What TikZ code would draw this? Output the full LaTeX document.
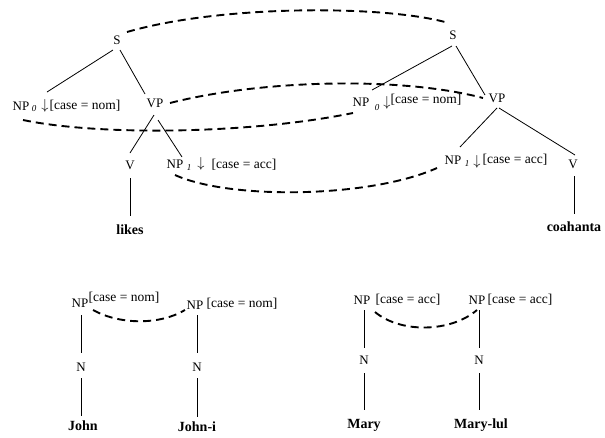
\documentclass[tikz,border=0pt]{standalone}
\usepackage{fontspec}
\setmainfont{Liberation Serif}
\begin{document}
\begin{tikzpicture}[x=1pt,y=-1pt,
  lbl/.style={inner sep=0pt,font=\fontsize{13}{14}\selectfont},
  word/.style={inner sep=0pt,font=\fontsize{14}{16}\selectfont\bfseries},
  sub/.style={inner sep=0pt,font=\fontsize{9}{10}\selectfont\itshape},
  feat/.style={inner sep=0pt,font=\fontsize{13.5}{16}\selectfont},
  arr/.style={inner sep=0pt,font=\fontsize{15}{16}\selectfont},
  edge/.style={line width=0.8pt},
  link/.style={line width=1.9pt,dash pattern=on 8pt off 5pt}]
\useasboundingbox (0,0) rectangle (605,437);
% ---------- left tree ----------
\node[lbl] (S1) at (117,40) {S};
\node[lbl] (NP0L) at (21,106) {NP};
\node[sub] (s0L) at (34,109) {0};
\node[arr] (a0L) at (45,106) {$\downarrow$};
\node[feat] (f0L) at (85,106) {[case = nom]};
\node[lbl] (VP1) at (155,103) {VP};
\node[lbl] (V1) at (130,165) {V};
\node[lbl] (NP1L) at (175,164) {NP};
\node[sub] (s1L) at (189,168) {1};
\node[arr] (a1L) at (201,164) {$\downarrow$};
\node[feat] (f1L) at (244,165) {[case = acc]};
\node[word] (likes) at (130,230) {likes};
\draw[edge] ([shift={(-4,10)}]S1.center) -- ([shift={(2,-14)}]a0L.center);
\draw[edge] ([shift={(3,10)}]S1.center) -- ([shift={(-10,-9)}]VP1.center);
\draw[edge] ([shift={(-1,12)}]VP1.center) -- ([shift={(0,-12)}]V1.center);
\draw[edge] ([shift={(3,17)}]VP1.center) -- ([shift={(7,-7)}]NP1L.center);
\draw[edge] ([shift={(0,13)}]V1.center) -- ([shift={(0,-14)}]likes.center);
% ---------- right tree ----------
\node[lbl] (S2) at (453,35) {S};
\node[lbl] (NP0R) at (361,102) {NP};
\node[sub] (s0R) at (377,108) {0};
\node[arr] (a0R) at (387,103) {$\downarrow$};
\node[feat] (f0R) at (426,100) {[case = nom]};
\node[lbl] (VP2) at (497,98) {VP};
\node[lbl] (NP1R) at (453,160) {NP};
\node[sub] (s1R) at (467,164) {1};
\node[arr] (a1R) at (477,162) {$\downarrow$};
\node[feat] (f1R) at (515,160) {[case = acc]};
\node[lbl] (V2) at (573,164) {V};
\node[word] (coa) at (574,227) {coahanta};
\draw[edge] ([shift={(-1,11)}]S2.center) -- ([shift={(11,-12)}]NP0R.center);
\draw[edge] ([shift={(3,11)}]S2.center) -- ([shift={(-12,-3)}]VP2.center);
\draw[edge] ([shift={(0,10)}]VP2.center) -- ([shift={(7,-13)}]NP1R.center);
\draw[edge] ([shift={(2,10)}]VP2.center) -- ([shift={(2,-9)}]V2.center);
\draw[edge] ([shift={(1,12)}]V2.center) -- ([shift={(0,-13)}]coa.center);
% ---------- long-distance links ----------
\draw[link] ([shift={(10,-8)}]S1.center) .. controls (220,5) and (380,5) .. ([shift={(-8,-13)}]S2.center);
\draw[link] ([shift={(15,0)}]VP1.center) .. controls (260,80) and (400,76) .. ([shift={(-14,0)}]VP2.center);
\draw[link] ([shift={(2,14)}]NP0L.center) .. controls (100,136) and (250,134) .. ([shift={(-8,11)}]NP0R.center);
\draw[link] ([shift={(0,11)}]NP1L.center) .. controls (230,200) and (370,198) .. ([shift={(-16,8)}]NP1R.center);
% ---------- bottom: John ----------
\node[lbl] (NPa) at (80,303) {NP};
\node[feat] (fa) at (124,298) {[case = nom]};
\node[lbl] (Na) at (81,367) {N};
\node[word] (john) at (83,426) {John};
\draw[edge] ([shift={(1,12)}]NPa.center) -- ([shift={(0,-14)}]Na.center);
\draw[edge] ([shift={(0,11)}]Na.center) -- ([shift={(-2,-10)}]john.center);
\node[lbl] (NPb) at (195,305) {NP};
\node[feat] (fb) at (242,304) {[case = nom]};
\node[lbl] (Nb) at (197,367) {N};
\node[word] (johni) at (197,427) {John-i};
\draw[edge] ([shift={(2,10)}]NPb.center) -- ([shift={(0,-14)}]Nb.center);
\draw[edge] ([shift={(0,11)}]Nb.center) -- ([shift={(0,-10)}]johni.center);
\draw[link] ([shift={(13,7)}]NPa.center) .. controls (120,325) and (160,325) .. ([shift={(-10,5)}]NPb.center);
% ---------- bottom: Mary ----------
\node[lbl] (NPc) at (362,300) {NP};
\node[feat] (fc) at (408,300) {[case = acc]};
\node[lbl] (Nc) at (364,360) {N};
\node[word] (mary) at (364,425) {Mary};
\draw[edge] ([shift={(2,10)}]NPc.center) -- ([shift={(0,-12)}]Nc.center);
\draw[edge] ([shift={(0,13)}]Nc.center) -- ([shift={(0,-15)}]mary.center);
\node[lbl] (NPd) at (477,300) {NP};
\node[feat] (fd) at (520,300) {[case = acc]};
\node[lbl] (Nd) at (479,360) {N};
\node[word] (marylul) at (481,425) {Mary-lul};
\draw[edge] ([shift={(2,10)}]NPd.center) -- ([shift={(0,-12)}]Nd.center);
\draw[edge] ([shift={(0,13)}]Nd.center) -- ([shift={(-2,-15)}]marylul.center);
\draw[link] ([shift={(13,12)}]NPc.center) .. controls (400,333) and (450,333) .. ([shift={(0,10)}]NPd.center);
\end{tikzpicture}
\end{document}
